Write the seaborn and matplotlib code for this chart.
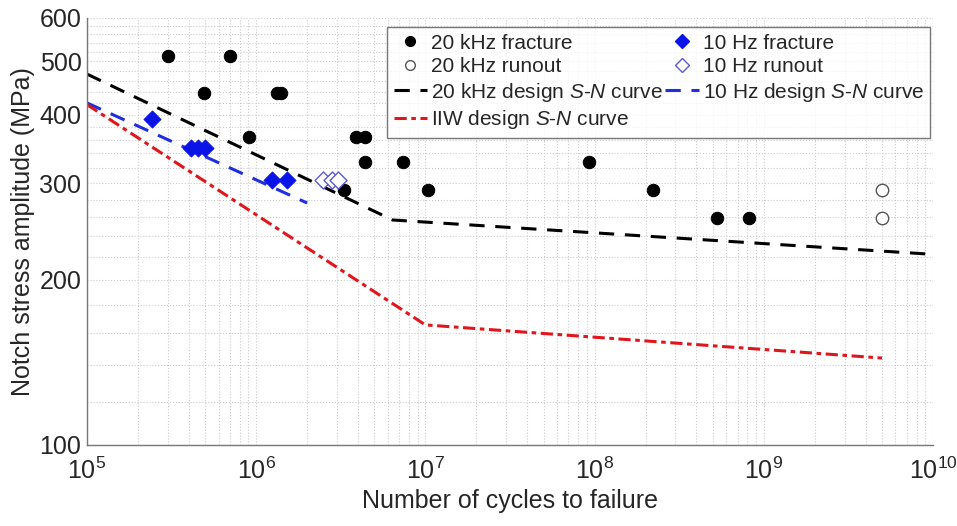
import numpy as np
import pandas as pd
import seaborn as sns
import matplotlib
matplotlib.use("Agg")
import matplotlib.pyplot as plt
from matplotlib.lines import Line2D
from matplotlib.ticker import FixedLocator, FixedFormatter, NullFormatter, LogLocator

# --- data ---
khz_frac_n = [3.0e5, 7.0e5, 4.9e5, 1.33e6, 1.40e6, 9.1e5, 3.9e6, 4.4e6,
              4.4e6, 7.4e6, 9.3e7, 3.3e6, 1.04e7, 2.2e8, 5.3e8, 8.2e8]
khz_frac_s = [511, 511, 438, 438, 438, 364, 364, 364,
              328, 328, 328, 291, 291, 291, 259, 259]

khz_run_n = [5.0e9, 5.0e9]
khz_run_s = [291, 259]

hz_frac_n = [2.42e5, 4.1e5, 4.5e5, 5.0e5, 1.24e6, 1.52e6]
hz_frac_s = [392, 348, 348, 348, 304, 304]

hz_run_n = [2.48e6, 2.8e6, 3.04e6]
hz_run_s = [304, 304, 304]

khz_curve_n = [1e5, 6.4e6, 1e10]
khz_curve_s = [474, 257, 222.5]

hz_curve_n = [1e5, 2.0e6]
hz_curve_s = [420, 276]

iiw_curve_n = [1e5, 1e7, 5e9]
iiw_curve_s = [417, 165.5, 144]

y_ticks = [100, 200, 300, 400, 500, 600]

# --- style ---
sns.set_style("white")
plt.rcParams['font.family'] = ['Liberation Sans', 'DejaVu Sans']
plt.rcParams['mathtext.fontset'] = 'custom'
plt.rcParams['mathtext.rm'] = 'Liberation Sans'
plt.rcParams['mathtext.it'] = 'Liberation Sans:italic'

fig = plt.figure(figsize=(9.57, 5.26), dpi=100)
ax = fig.add_axes([0.0909, 0.154, 0.884, 0.812])
ax.set_xscale('log')
ax.set_yscale('log')

# design curves
sns.lineplot(x=khz_curve_n, y=khz_curve_s, ax=ax, color='black', lw=2.2,
             linestyle=(0, (5, 3.5)), sort=False, estimator=None)
sns.lineplot(x=hz_curve_n, y=hz_curve_s, ax=ax, color='#1f2fe0', lw=2.2,
             linestyle=(0, (5, 3.5)), sort=False, estimator=None)
sns.lineplot(x=iiw_curve_n, y=iiw_curve_s, ax=ax, color='#e0161c', lw=2.2,
             linestyle=(0, (4, 1.5, 1.5, 1.5)), sort=False, estimator=None)

# test data
sns.scatterplot(x=khz_frac_n, y=khz_frac_s, ax=ax, color='black', marker='o',
                s=80, edgecolor='black', zorder=5)
sns.scatterplot(x=khz_run_n, y=khz_run_s, ax=ax, marker='o', s=80,
                facecolor='white', edgecolor='#555555', linewidth=1.0, zorder=5)
sns.scatterplot(x=hz_frac_n, y=hz_frac_s, ax=ax, color='#0a14e6', marker='D',
                s=75, edgecolor='#0a14e6', zorder=5)
sns.scatterplot(x=hz_run_n, y=hz_run_s, ax=ax, marker='D', s=75,
                facecolor='white', edgecolor='#5a5ad2', linewidth=1.0, zorder=5)

ax.set_xlim(1e5, 1e10)
ax.set_ylim(100, 600)

ax.yaxis.set_major_locator(FixedLocator(y_ticks))
ax.yaxis.set_major_formatter(FixedFormatter([str(t) for t in y_ticks]))
ax.yaxis.set_minor_locator(FixedLocator([v for v in range(120, 600, 20) if v % 100]))
ax.yaxis.set_minor_formatter(NullFormatter())
ax.xaxis.set_major_locator(LogLocator(base=10, numticks=10))
ax.xaxis.set_minor_locator(LogLocator(base=10, subs=np.arange(2, 10), numticks=20))
ax.xaxis.set_minor_formatter(NullFormatter())

ax.grid(True, which='both', color='#cccccc', linestyle=':', linewidth=0.8)
ax.tick_params(which='both', direction='in', colors='#444444', labelcolor='#262626',
               labelsize=18, top=False, right=False)
ax.tick_params(which='major', length=6)
ax.tick_params(which='minor', length=3)
ax.tick_params(axis='x', which='major', pad=9)
ax.tick_params(axis='y', which='major', pad=4)
for sp in ax.spines.values():
    sp.set_color('#777777')
    sp.set_linewidth(1.0)
ax.spines['top'].set_visible(False)
ax.spines['right'].set_visible(False)

ax.set_xlabel('Number of cycles to failure', fontsize=18, color='#262626', labelpad=4)
ax.set_ylabel('Notch stress amplitude (MPa)', fontsize=18, color='#262626', labelpad=3)

handles = [
    Line2D([], [], marker='o', color='black', ls='none', markersize=7),
    Line2D([], [], marker='o', mfc='white', mec='#555555', ls='none', markersize=7, mew=1.0),
    Line2D([], [], color='black', lw=2.2, ls=(0, (5, 3.5))),
    Line2D([], [], color='#e0161c', lw=2.2, ls=(0, (4, 1.5, 1.5, 1.5))),
    Line2D([], [], marker='D', color='#0a14e6', ls='none', markersize=7),
    Line2D([], [], marker='D', mfc='white', mec='#5a5ad2', ls='none', markersize=7, mew=1.0),
    Line2D([], [], color='#1f2fe0', lw=2.2, ls=(0, (5, 3.5))),
]
labels = ['20 kHz fracture', '20 kHz runout', '20 kHz design $S$-$N$ curve',
          'IIW design $S$-$N$ curve', '10 Hz fracture', '10 Hz runout',
          '10 Hz design $S$-$N$ curve']
leg = ax.legend(handles, labels, ncol=2, loc='upper right', bbox_to_anchor=(0.997, 0.978),
                fontsize=15, frameon=True, fancybox=False, edgecolor='#555555',
                handlelength=1.6, handletextpad=0.2, columnspacing=0.1,
                labelspacing=0.22, borderpad=0.3, borderaxespad=0.0)
leg.get_frame().set_linewidth(1.0)

fig.savefig('out.png', dpi=100)
